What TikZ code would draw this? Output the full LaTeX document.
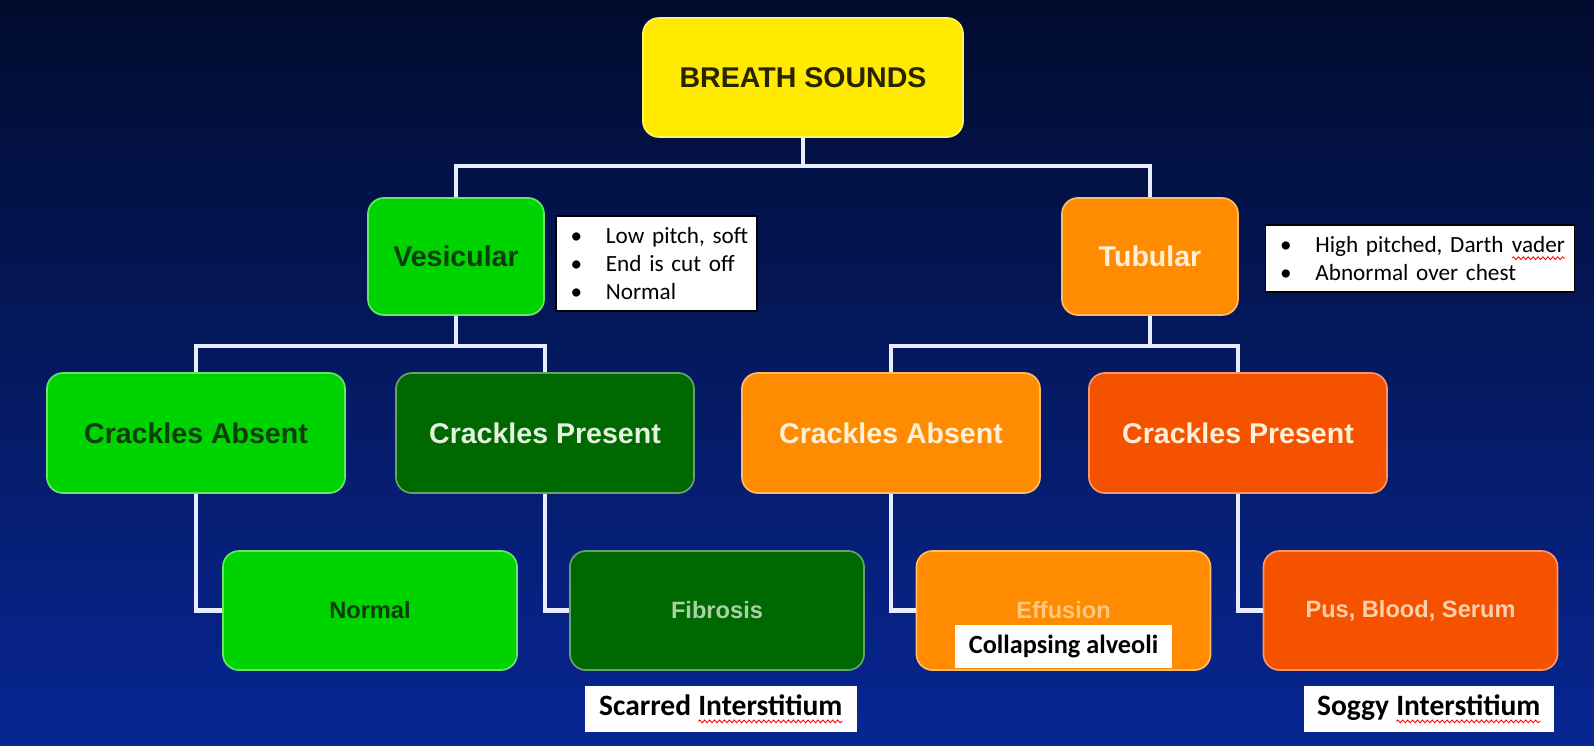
\documentclass[tikz,border=0pt]{standalone}
\usepackage{fontspec}
\setmainfont{Liberation Sans}
\newfontfamily\calibri{Carlito}
\usepackage{tikz}
\usetikzlibrary{positioning,decorations.pathmorphing}

\definecolor{bgtop}{RGB}{1,12,46}
\definecolor{bgbot}{RGB}{8,38,148}
\definecolor{sunny}{RGB}{255,234,0}
\definecolor{lime}{RGB}{0,212,0}
\definecolor{forest}{RGB}{0,104,0}
\definecolor{amber}{RGB}{255,140,0}
\definecolor{rust}{RGB}{245,82,0}
\definecolor{wire}{RGB}{232,236,255}
\definecolor{ink}{RGB}{40,36,0}
\definecolor{leafink}{RGB}{10,62,10}
\definecolor{mint}{RGB}{228,242,222}
\definecolor{cream}{RGB}{255,240,215}

% red squiggle of the spell checker
\newcommand\redwave[1]{\tikz[baseline=(w.base)]{\node[inner sep=0pt, outer sep=0pt,
    minimum width=0pt, minimum height=0pt, text width=, draw=none, fill=none] (w) {#1};
  \draw[red, line width=0.6pt, decorate, decoration={snake, amplitude=1pt, segment length=3.5pt}]
    ([yshift=-4pt]w.south west) -- ([yshift=-4pt]w.south east);}}
% bullet of the notes
\newcommand\bullitem{\hspace*{8.5pt}\makebox[25pt][l]{\textbullet}}

\tikzset{
  box/.style={fill=#1, draw=#1!60!white, line width=1.2pt, rounded corners=0.4cm,
    minimum width=7.45cm, minimum height=3cm, inner sep=0pt,
    font=\bfseries\fontsize{20.3}{24}\selectfont},
  leaf/.style={box=#1, minimum width=7.35cm, minimum height=2.975cm,
    font=\bfseries\fontsize{16.8}{20}\selectfont},
  note/.style={draw=black, fill=white, line width=0.8pt, inner xsep=2pt, inner ysep=0pt,
    align=left, text=black, font=\calibri\fontsize{16.5}{20}\selectfont},
  tag/.style={fill=white, inner sep=0pt, text=black,
    font=\calibri\bfseries\fontsize{21}{24}\selectfont},
  wire/.style={draw=wire, line width=3pt}
}

\begin{document}
\begin{tikzpicture}[x=0.025cm, y=-0.025cm]
            % Background
            \useasboundingbox (0,0) rectangle (1594,745);
            \fill[top color=bgtop, bottom color=bgbot] (0,0) rectangle (1594,745);
            % Top levels
            \node[box=sunny, text=ink, minimum width=8cm, minimum height=2.975cm] (breath) at (803,77.5) {BREATH SOUNDS};
            \node[box=lime, text=leafink, minimum width=4.4cm, minimum height=2.925cm] (vesic) at (456,256.5) {Vesicular};
            \node[box=amber, text=cream, minimum width=4.4cm, minimum height=2.925cm] (tubul) at (1150,256.5) {Tubular};
            % Crackles
            \node[box=lime, text=leafink] (absL) at (196,433) {Crackles Absent};
            \node[box=forest, text=mint] (presL) at (545,433) {Crackles Present};
            \node[box=amber, text=cream] (absR) at (891,433) {Crackles Absent};
            \node[box=rust, text=cream] (presR) at (1238,433) {Crackles Present};
            % Causes
            \node[leaf=lime, text=leafink] (normal) at (370,610.5) {Normal};
            \node[leaf=forest, text=mint!75!forest] (fibro) at (717,610.5) {Fibrosis};
            \node[leaf=amber, text=cream!60!amber] (effus) at (1063.5,610.5) {Effusion};
            \node[leaf=rust, text=cream!80!rust] (pbs) at (1410.5,610.5) {Pus, Blood, Serum};
            % Connectors
            \coordinate (hub) at (803,166);
            \coordinate (hubL) at (456,346);
            \coordinate (hubR) at (1150,346);
            \draw[wire] (breath.south) -- (hub);
            \draw[wire] (hub) -| (vesic.north);
            \draw[wire] (hub) -| (tubul.north);
            \draw[wire] (vesic.south) -- (hubL);
            \draw[wire] (hubL) -| (absL.north);
            \draw[wire] (hubL) -| (presL.north);
            \draw[wire] (tubul.south) -- (hubR);
            \draw[wire] (hubR) -| (absR.north);
            \draw[wire] (hubR) -| (presR.north);
            \draw[wire] (absL.south) |- (normal.west);
            \draw[wire] (presL.south) |- (fibro.west);
            \draw[wire] (absR.south) |- (effus.west);
            \draw[wire] (presR.south) |- (pbs.west);
            % Notes
            \node[note, text width=139pt, minimum height=2.375cm] (vnote) at (656.5,263.5)
              {\bullitem Low pitch, soft\\
               \bullitem End is cut off\\
               \bullitem Normal};
            \node[note, text width=215.8pt, minimum height=1.675cm] (tnote) at (1420,258.5)
              {\bullitem High pitched, Darth \redwave{vader}\\
               \bullitem Abnormal over chest};
            \node[tag, minimum width=6.8cm, minimum height=1.15cm] (scar) at (721,709) {Scarred \redwave{Interstitium}};
            \node[tag, minimum width=5.425cm, minimum height=1.075cm, font=\calibri\bfseries\fontsize{18.7}{22}\selectfont] (coll) at (1063.5,646.5) {Collapsing alveoli};
            \node[tag, minimum width=6.25cm, minimum height=1.15cm] (soggy) at (1429,709) {Soggy \redwave{Interstitium}};
\end{tikzpicture}
\end{document}
